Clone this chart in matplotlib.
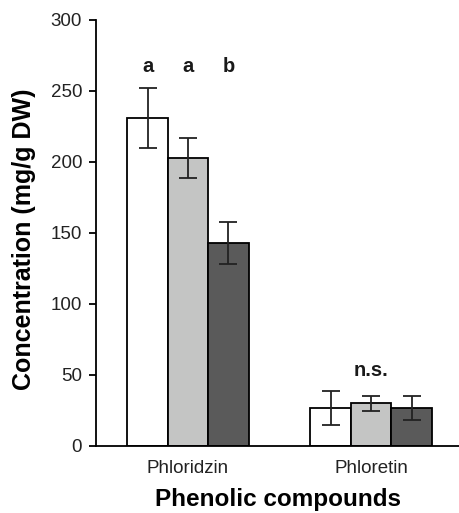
import matplotlib
matplotlib.use("Agg")
import matplotlib.pyplot as plt
import numpy as np

plt.rcParams['font.family'] = ['Liberation Sans', 'DejaVu Sans']

# datos
compuestos = ["Phloridzin", "Phloretin"]
blanco = [231, 27]
blanco_err = [21, 12]
gris = [203, 30]
gris_err = [14, 5.5]
oscuro = [143, 27]
oscuro_err = [15, 8.5]
letras = [["a", "a", "b"], ["", "n.s.", ""]]
letras_y = [267, 53]

fig = plt.figure(figsize=(4.6, 5.13), dpi=100)
ax = fig.add_axes([96/460, 1-446/513, 364/460, 426/513])

x = np.arange(len(compuestos))
w = 0.221
kw = dict(edgecolor="black", linewidth=1.3, error_kw=dict(elinewidth=1.3, capsize=6.5, capthick=1.3, ecolor="#222222"))
ax.bar(x - w, blanco, w, yerr=blanco_err, color="white", **kw)
ax.bar(x, gris, w, yerr=gris_err, color="#c4c5c4", **kw)
ax.bar(x + w, oscuro, w, yerr=oscuro_err, color="#5a5a5a", **kw)

for i in range(len(compuestos)):
    for j, dx in enumerate([-w, 0, w]):
        if letras[i][j]:
            ax.text(x[i] + dx, letras_y[i], letras[i][j], ha="center", va="center",
                    fontsize=14.5, fontweight="bold", color="#1a1a1a")

ax.set_xlim(-0.503, 1.486)
ax.set_ylim(0, 300)
ax.set_yticks([0, 50, 100, 150, 200, 250, 300])
ax.set_xticks(x)
ax.set_xticklabels(compuestos, fontsize=13.5, color="#222222")
ax.tick_params(axis="x", length=0, pad=10)
ax.tick_params(axis="y", length=5, width=1.3, labelsize=13.5, labelcolor="#222222", pad=5)
ax.spines["top"].set_visible(False)
ax.spines["right"].set_visible(False)
ax.spines["left"].set_linewidth(1.3)
ax.spines["bottom"].set_linewidth(1.3)
ax.set_ylabel("Concentration (mg/g DW)", fontsize=18, fontweight="bold")
ax.yaxis.set_label_coords(-0.165, 0.485)
ax.set_xlabel("Phenolic compounds", fontsize=17.5, fontweight="bold", labelpad=8)

fig.savefig("out.png", dpi=100)
